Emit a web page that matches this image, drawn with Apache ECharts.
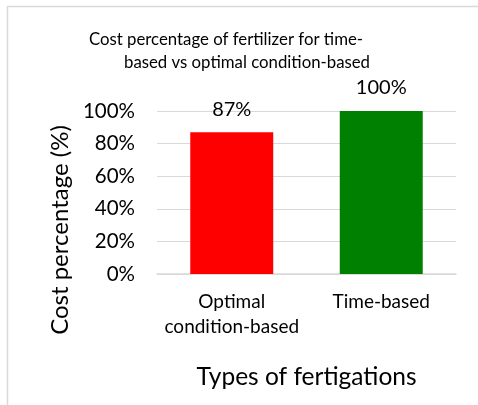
<!DOCTYPE html>
<html>
<head>
<meta charset="utf-8">
<script src="https://cdn.jsdelivr.net/npm/echarts@6/dist/echarts.min.js"></script>
<style>
  html, body { margin: 0; padding: 0; background: #fff; }
  #chart { width: 478px; height: 405px; }
</style>
</head>
<body>
<div id="chart"></div>
<script>
// data
var categories = ['Optimal\ncondition-based', 'Time-based'];
var costPct = [87, 100];
var barColors = ['#ff0000', '#008000'];
var yTicks = [0, 20, 40, 60, 80, 100];

var titleLines = ['Cost percentage of fertilizer for time-', 'based vs optimal condition-based'];
var xName = 'Types of fertigations';
var yName = 'Cost percentage (%)';

var font = 'Lato, "Open Sans", sans-serif';
var ink = '#000';
var rule = '#d9d9d9';

var chart = echarts.init(document.getElementById('chart'), null, { renderer: 'canvas' });
chart.setOption({
  animation: false,
  textStyle: { fontFamily: font },
  grid: { left: 157, right: 22, top: 111, bottom: 131, containLabel: false },
  xAxis: {
    type: 'category',
    data: categories,
    name: xName,
    nameLocation: 'middle',
    nameGap: 91,
    nameTextStyle: { color: ink, fontSize: 24.5, fontFamily: font },
    axisLine: { lineStyle: { color: rule, width: 1.5 } },
    axisTick: { show: false },
    axisLabel: { interval: 0, color: ink, fontSize: 19, lineHeight: 25, margin: 15, fontFamily: font }
  },
  yAxis: {
    type: 'value',
    min: yTicks[0],
    max: yTicks[yTicks.length - 1],
    interval: yTicks[1] - yTicks[0],
    axisLine: { show: false },
    axisTick: { show: false },
    splitLine: { lineStyle: { color: rule, width: 1 } },
    axisLabel: { color: ink, fontSize: 20.5, margin: 22, fontFamily: font, formatter: '{value}%' }
  },
  series: [{
    type: 'bar',
    barWidth: '55.5%',
    data: costPct.map(function(v, i) {
      return { value: v, itemStyle: { color: barColors[i] } };
    }),
    label: {
      show: true,
      position: 'top',
      distance: 13,
      color: ink,
      fontSize: 20,
      fontFamily: font,
      formatter: '{c}%'
    }
  }],
  graphic: [
    // chart-area frame (left and top edges visible)
    { type: 'line', shape: { x1: 7.5, y1: 6.5, x2: 7.5, y2: 405 }, style: { stroke: rule, lineWidth: 1.5 } },
    { type: 'line', shape: { x1: 7, y1: 6.5, x2: 478, y2: 6.5 }, style: { stroke: rule, lineWidth: 1.5 } },
    { type: 'text', x: 226, y: 40, style: { text: titleLines[0], fill: ink, font: '16.8px ' + font, textAlign: 'center', textVerticalAlign: 'middle' } },
    { type: 'text', x: 247, y: 63, style: { text: titleLines[1], fill: ink, font: '16.8px ' + font, textAlign: 'center', textVerticalAlign: 'middle' } },
    { type: 'text', x: 60, y: 230, rotation: Math.PI / 2, style: { text: yName, fill: ink, font: '24px ' + font, textAlign: 'center', textVerticalAlign: 'middle' } }
  ]
});
</script>
</body>
</html>
